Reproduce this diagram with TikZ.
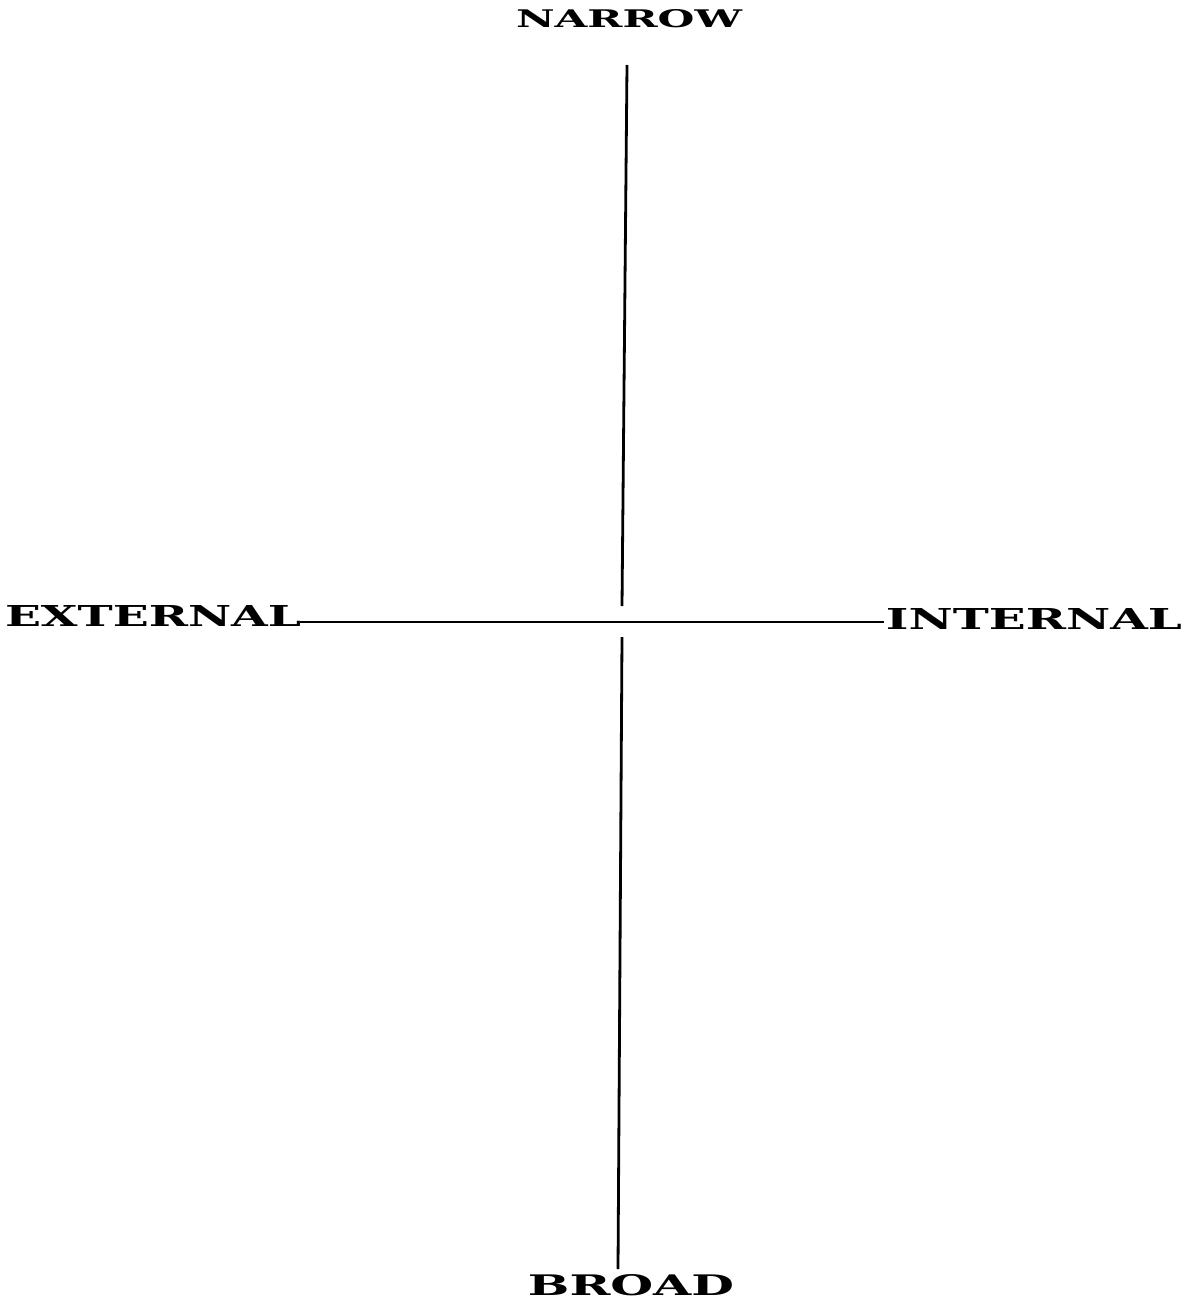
\documentclass[tikz,border=0pt]{standalone}
\usepackage{graphicx}
\usepackage{fontspec}
\newfontfamily\slabfont{DejaVu Serif}
\tikzset{
  lbl/.style={inner sep=0pt, outer sep=0pt},
  axis/.style={line width=1.4pt, black},
}
\newcommand{\wide}[3]{\resizebox{#1}{#2}{\slabfont\bfseries #3}}
\begin{document}
\begin{tikzpicture}[x=0.5pt,y=-0.5pt]
\useasboundingbox (0,0) rectangle (1188,1301);
\node[lbl] (narrow) at (629,19) {\wide{113pt}{9pt}{NARROW}};
\node[lbl] (broad) at (631,1285.5) {\wide{103pt}{10.5pt}{BROAD}};
\node[lbl, anchor=south west] (external) at (5,626) {\wide{148pt}{10.5pt}{EXTERNAL}};
\node[lbl, anchor=south east] (internal) at (1182,629) {\wide{148pt}{10.5pt}{INTERNAL}};
\coordinate (ntop) at (627,65);
\coordinate (nbot) at (622,606);
\coordinate (btop) at (622,637);
\coordinate (bbot) at (618,1269);
\coordinate (hl) at (300,622);
\coordinate (hr) at (884,622);
\draw[axis] (ntop) -- (nbot);
\draw[axis] (btop) -- (bbot);
\draw[axis] (hl) -- (hr);
\end{tikzpicture}
\end{document}
